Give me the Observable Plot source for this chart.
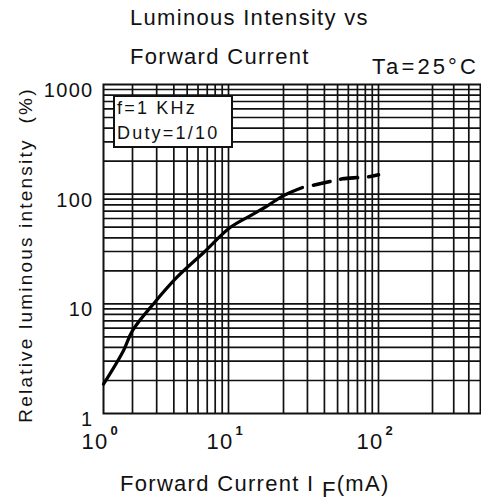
<!DOCTYPE html>
<html>
<head>
<meta charset="utf-8">
<script src="https://cdn.jsdelivr.net/npm/d3@7"></script>
<script src="https://cdn.jsdelivr.net/npm/@observablehq/plot@0.6"></script>
<style>
  html, body { margin: 0; padding: 0; background: #fff; }
  body { font-family: "Liberation Sans", Arial, sans-serif; color: #111; }
  #wrap { position: relative; width: 481px; height: 502px; overflow: hidden; }
  #head { position: relative; height: 80px; }
  #foot { position: relative; height: 42px; }
  .t { position: absolute; white-space: pre; line-height: 1; font-size: 22px; letter-spacing: 1.3px; }
  #chart svg { display: block; }
  #chart text { white-space: pre; letter-spacing: 1.3px; }
  #chart text[transform*="rotate"] { letter-spacing: 2.2px; }
  #note { position: absolute; left: 113px; top: 95px; width: 116px; height: 49px;
          border: 2px solid #111; background: #fff; }
  #note div { position: absolute; left: 2px; white-space: pre; line-height: 1;
              font-size: 18px; letter-spacing: 2.2px; }
  .sub { position: relative; top: 6px; }
</style>
</head>
<body>
<div id="wrap">
  <div id="head">
    <div class="t" style="left:130px;top:7px;">Luminous Intensity vs</div>
    <div class="t" style="left:130px;top:46px;">Forward Current</div>
    <div class="t" style="left:372px;top:56px;letter-spacing:3.1px;">Ta=25°C</div>
  </div>
  <div id="chart"></div>
  <div id="foot">
    <div class="t" style="left:120px;top:13px;">Forward Current I <span class="sub">F</span>(mA)</div>
  </div>
  <div id="note">
    <div style="top:2px;">f=1 KHz</div>
    <div style="top:27px;">Duty=1/10</div>
  </div>
</div>
<script>
// Forward current (mA) axis: decade labels and grid values
const currentTicks = [1, 10, 100];
const currentExponents = ["0", "1", "2"];
const currentGrid = [2, 3, 4, 5, 6, 7, 8, 9, 10, 20, 30, 40, 50, 60, 70, 80, 90, 100, 200, 300, 400];

// Relative luminous intensity (%) axis
const intensityTicks = [1, 10, 100, 1000];
const intensityGrid = [2, 3, 4, 5, 6, 7, 8, 9, 10, 20, 30, 40, 50, 60, 70, 80, 90,
                       100, 200, 300, 400, 500, 600, 700, 800, 900];

// Measured curve (solid) and its extrapolated part (dashed)
const solidCurrent   = [1, 1.6, 2, 2.9, 4.2, 6.6, 10.2, 13.2, 16.4, 20, 27.6];
const solidIntensity = [1.85, 3.7, 5.7, 10.3, 17.4, 29.4, 49.6, 63.8, 78.7, 97, 115];
const dashedCurrent   = [27.6, 34.4, 45.9, 54.3, 71.3, 87.4, 100];
const dashedIntensity = [115, 122, 132, 138, 142, 145, 150];

const solid = solidCurrent.map((x, i) => ({x, y: solidIntensity[i]}));
const dashed = dashedCurrent.map((x, i) => ({x, y: dashedIntensity[i]}));

const ink = "#111";

const chart = Plot.plot({
  width: 481,
  height: 380,
  marginTop: 4,
  marginLeft: 103,
  marginRight: 1,
  marginBottom: 47,
  style: {fontFamily: "'Liberation Sans', Arial, sans-serif", color: ink, background: "#fff"},
  // piecewise log scale: the first decade is drawn narrower than the later ones
  x: {type: "log", domain: [1, 2, 10, 20, 100, 200, 500],
      range: [103, 132, 228, 283, 378, 432, 480], axis: null},
  y: {type: "log", domain: [1, 1000], axis: null},
  marks: [
    Plot.gridX(currentGrid, {stroke: ink, strokeOpacity: 1, strokeWidth: 1.7}),
    Plot.gridY(intensityGrid, {stroke: ink, strokeOpacity: 1, strokeWidth: 1.7}),
    Plot.frame({stroke: ink, strokeWidth: 2}),
    Plot.line(solid, {x: "x", y: "y", curve: "catmull-rom", stroke: "#000", strokeWidth: 3.2}),
    Plot.line(dashed, {x: "x", y: "y", curve: "catmull-rom", stroke: "#000", strokeWidth: 3.6,
                       strokeDasharray: "17,11", strokeDashoffset: 17}),
    Plot.text(intensityTicks, {y: d => d, text: d => String(d), frameAnchor: "left",
                               textAnchor: "end", dx: -10, dy: 6, fontSize: 20, fill: ink}),
    Plot.text(currentTicks, {x: d => d, text: () => "10", frameAnchor: "bottom",
                             textAnchor: "end", dx: 5, dy: 35, fontSize: 22, fill: ink}),
    Plot.text(currentTicks, {x: d => d, text: (d, i) => currentExponents[i], frameAnchor: "bottom",
                             textAnchor: "start", dx: 7, dy: 21, fontSize: 13, fontWeight: "bold", fill: ink}),
    Plot.text(["Relative luminous intensity\u00a0 (%)"], {frameAnchor: "left", textAnchor: "middle",
                             rotate: -90, dx: -78, dy: 6, fontSize: 19, fill: ink})
  ]
});
document.getElementById("chart").appendChild(chart);
</script>
</body>
</html>
